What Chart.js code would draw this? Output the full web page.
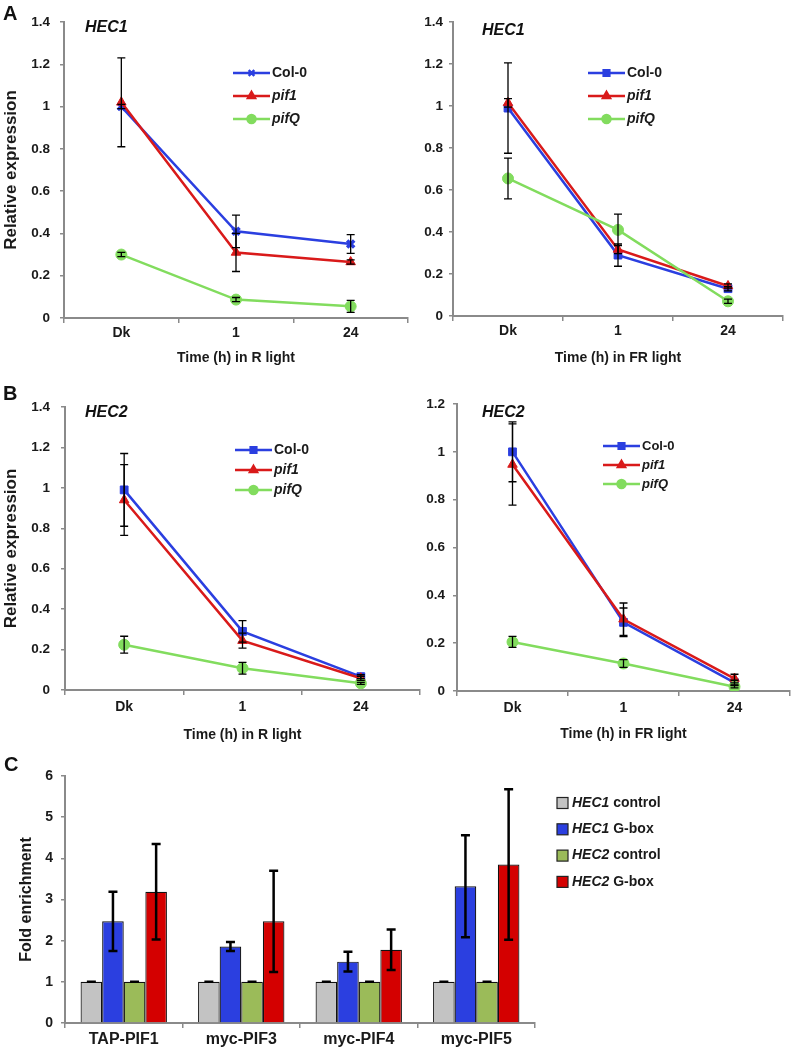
<!DOCTYPE html>
<html>
<head>
<meta charset="utf-8">
<script src="https://cdn.jsdelivr.net/npm/chart.js@4.4.1/dist/chart.umd.min.js"></script>
<style>
  body { margin: 0; background: #fff; }
  #page { position: relative; width: 797px; height: 1049px; overflow: hidden; font-family: "Liberation Sans", Arial, sans-serif; }
  canvas { position: absolute; }
  .lbl { position: absolute; font-weight: bold; line-height: 1; color: #111; white-space: nowrap; }
  .letter { font-size: 20px; }
  .gene { font-size: 16px; font-style: italic; }
</style>
</head>
<body>
<div id="page">
  <canvas id="aLeft" style="left:0;top:0" width="412" height="370"></canvas>
  <canvas id="aRight" style="left:400px;top:0" width="397" height="370"></canvas>
  <canvas id="bLeft" style="left:0;top:380px" width="424" height="370"></canvas>
  <canvas id="bRight" style="left:400px;top:380px" width="397" height="370"></canvas>
  <canvas id="cChart" style="left:0;top:740px" width="797" height="309"></canvas>

  <div class="lbl letter" style="left:3px;top:3px">A</div>
  <div class="lbl letter" style="left:3px;top:383px">B</div>
  <div class="lbl letter" style="left:4px;top:754px">C</div>
  <div class="lbl gene" style="left:85px;top:19px">HEC1</div>
  <div class="lbl gene" style="left:482px;top:22px">HEC1</div>
  <div class="lbl gene" style="left:85px;top:404px">HEC2</div>
  <div class="lbl gene" style="left:482px;top:404px">HEC2</div>
</div>
<script>
// ---- data ----
const timeLabels = ['Dk', '1', '24'];
const seriesNames = ['Col-0', 'pif1', 'pifQ'];

// A, HEC1, R light
const hec1R_col0 = [1.00, 0.41, 0.35];
const hec1R_col0Err = [0.01, 0.077, 0.044];
const hec1R_pif1 = [1.02, 0.31, 0.265];
const hec1R_pif1Err = [0.21, 0.09, 0.01];
const hec1R_pifQ = [0.30, 0.087, 0.055];
const hec1R_pifQErr = [0.01, 0.01, 0.028];

// A, HEC1, FR light
const hec1FR_col0 = [0.99, 0.29, 0.13];
const hec1FR_col0Err = [0.215, 0.053, 0.01];
const hec1FR_pif1 = [1.015, 0.317, 0.143];
const hec1FR_pif1Err = [0.02, 0.02, 0.01];
const hec1FR_pifQ = [0.655, 0.41, 0.07];
const hec1FR_pifQErr = [0.097, 0.075, 0.01];

// B, HEC2, R light
const hec2R_col0 = [0.99, 0.29, 0.066];
const hec2R_col0Err = [0.18, 0.053, 0.01];
const hec2R_pif1 = [0.94, 0.244, 0.058];
const hec2R_pif1Err = [0.175, 0.037, 0.01];
const hec2R_pifQ = [0.224, 0.108, 0.033];
const hec2R_pifQErr = [0.042, 0.029, 0.005];

// B, HEC2, FR light
const hec2FR_col0 = [1.0, 0.287, 0.035];
const hec2FR_col0Err = [0.125, 0.06, 0.01];
const hec2FR_pif1 = [0.947, 0.30, 0.052];
const hec2FR_pif1Err = [0.17, 0.068, 0.018];
const hec2FR_pifQ = [0.205, 0.115, 0.018];
const hec2FR_pifQErr = [0.023, 0.016, 0.005];

// C, ChIP fold enrichment
const chipLabels = ['TAP-PIF1', 'myc-PIF3', 'myc-PIF4', 'myc-PIF5'];
const chipNames = ['HEC1 control', 'HEC1 G-box', 'HEC2 control', 'HEC2 G-box'];
const hec1Control = [1, 1, 1, 1];
const hec1ControlErr = [0, 0, 0, 0];
const hec1Gbox = [2.47, 1.86, 1.49, 3.32];
const hec1GboxErr = [0.72, 0.11, 0.24, 1.24];
const hec2Control = [1, 1, 1, 1];
const hec2ControlErr = [0, 0, 0, 0];
const hec2Gbox = [3.19, 2.47, 1.78, 3.85];
const hec2GboxErr = [1.16, 1.23, 0.49, 1.83];

// ---- style ----
const FONT = '"Liberation Sans", Arial, sans-serif';
const BLUE = '#2b3fe0', RED = '#d91a1a', GREEN = '#82dc5e';
const AXIS = '#8a8a8a', TEXT = '#1a1a1a';

Chart.defaults.font.family = FONT;
Chart.defaults.font.weight = 'bold';
Chart.defaults.color = TEXT;
Chart.defaults.animation = false;

const errorBars = {
  id: 'errorBars',
  afterDatasetsDraw(chart, args, opts) {
    const ctx = chart.ctx;
    chart.data.datasets.forEach((ds, i) => {
      if (!ds.errors) return;
      const meta = chart.getDatasetMeta(i);
      const ys = chart.scales[meta.yAxisID];
      meta.data.forEach((el, j) => {
        const v = ds.data[j], e = ds.errors[j];
        const top = ys.getPixelForValue(v + e), bot = ys.getPixelForValue(v - e);
        ctx.save();
        ctx.strokeStyle = '#000';
        ctx.lineWidth = opts.width;
        ctx.beginPath();
        ctx.moveTo(el.x, top); ctx.lineTo(el.x, bot);
        ctx.moveTo(el.x - opts.cap, top); ctx.lineTo(el.x + opts.cap, top);
        ctx.moveTo(el.x - opts.cap, bot); ctx.lineTo(el.x + opts.cap, bot);
        ctx.stroke();
        ctx.restore();
      });
    });
  }
};

// legend drawn inside the plot area
const insideLegend = {
  id: 'insideLegend',
  afterDraw(chart, args, opts) {
    if (!opts.mode) return;
    const {ctx, chartArea} = chart;
    chart.data.datasets.forEach((ds, i) => {
      const x0 = chartArea.left + opts.x;
      const y = chartArea.top + opts.y + i * opts.gap;
      ctx.save();
      if (opts.mode === 'line') {
        ctx.strokeStyle = ds.borderColor;
        ctx.lineWidth = ds.borderWidth;
        ctx.beginPath(); ctx.moveTo(x0, y); ctx.lineTo(x0 + opts.len, y); ctx.stroke();
        ctx.fillStyle = ds.pointBackgroundColor;
        ctx.strokeStyle = ds.pointBorderColor;
        Chart.helpers.drawPoint(ctx, {pointStyle: ds.pointStyle, radius: opts.radius, rotation: 0, borderWidth: ds.pointBorderWidth}, x0 + opts.len / 2, y);
        ctx.fillStyle = TEXT;
        ctx.textBaseline = 'middle';
        ctx.font = (ds.label === 'Col-0' ? '' : 'italic ') + 'bold ' + opts.size + 'px ' + FONT;
        ctx.fillText(ds.label, x0 + opts.len + 2, y);
      } else {
        const s = opts.box;
        ctx.fillStyle = ds.backgroundColor;
        ctx.fillRect(x0, y - s / 2, s, s);
        ctx.strokeStyle = '#222';
        ctx.lineWidth = 1.2;
        ctx.strokeRect(x0, y - s / 2, s, s);
        const gene = ds.label.split(' ')[0], rest = ds.label.slice(gene.length);
        ctx.fillStyle = TEXT;
        ctx.textBaseline = 'middle';
        ctx.font = 'italic bold ' + opts.size + 'px ' + FONT;
        ctx.fillText(gene, x0 + s + 4, y);
        const w = ctx.measureText(gene).width;
        ctx.font = 'bold ' + opts.size + 'px ' + FONT;
        ctx.fillText(rest, x0 + s + 4 + w, y);
      }
      ctx.restore();
    });
  }
};

function lineSet(label, data, errors, color, style, order) {
  return {
    label, data, errors, order,
    borderColor: color, borderWidth: 2.5,
    pointStyle: style, pointRadius: style === 'crossRot' ? 5 : 5.5,
    pointBackgroundColor: color, pointBorderColor: color,
    pointBorderWidth: style === 'crossRot' ? 3.5 : 1,
    fill: false, tension: 0
  };
}

function lineChart(id, cfg) {
  new Chart(document.getElementById(id), {
    type: 'line',
    data: {
      labels: timeLabels,
      datasets: [
        lineSet(seriesNames[0], cfg.col0, cfg.col0Err, BLUE, cfg.col0Style, 2),
        lineSet(seriesNames[1], cfg.pif1, cfg.pif1Err, RED, 'triangle', 1),
        lineSet(seriesNames[2], cfg.pifQ, cfg.pifQErr, GREEN, 'circle', 0)
      ]
    },
    options: {
      responsive: false,
      layout: { autoPadding: false, padding: cfg.padding },
      plugins: {
        legend: { display: false },
        tooltip: { enabled: false },
        errorBars: { width: 1.3, cap: 4 },
        insideLegend: Object.assign({ mode: 'line', len: 37, radius: 4 }, cfg.legend)
      },
      scales: {
        x: {
          offset: true,
          grid: { offset: true, drawOnChartArea: false, drawTicks: true, tickLength: 5, color: AXIS, lineWidth: 1.5 },
          border: { display: true, color: AXIS, width: 2 },
          ticks: { font: { size: 14, weight: 'bold' }, padding: cfg.xPad, color: TEXT },
          title: { display: true, text: cfg.xTitle, font: { size: 14, weight: 'bold' }, padding: { top: 0, bottom: cfg.titlePad }, color: TEXT },
          afterFit(s) { s.height = cfg.xHeight; }
        },
        y: {
          min: 0, max: cfg.yMax,
          ticks: { stepSize: 0.2, font: { size: 13.5, weight: 'bold' }, padding: cfg.yPad, color: TEXT,
                   callback: v => String(+v.toFixed(1)) },
          grid: { drawOnChartArea: false, drawTicks: true, tickLength: 4, color: AXIS, lineWidth: 1.5 },
          border: { display: true, color: AXIS, width: 2 },
          title: { display: !!cfg.yTitle, text: cfg.yTitle || '', font: { size: 17, weight: 'bold' }, padding: { top: 1, bottom: 0 }, color: TEXT },
          afterFit(s) { s.width = cfg.yWidth; }
        }
      }
    },
    plugins: [errorBars, insideLegend]
  });
}

lineChart('aLeft', {
  col0: hec1R_col0, col0Err: hec1R_col0Err, pif1: hec1R_pif1, pif1Err: hec1R_pif1Err,
  pifQ: hec1R_pifQ, pifQErr: hec1R_pifQErr, col0Style: 'crossRot',
  padding: { top: 22, right: 4, bottom: 0, left: 0 }, yWidth: 64, xHeight: 52,
  yMax: 1.4, yPad: 10, xPad: 2, titlePad: 3.6,
  xTitle: 'Time (h) in R light', yTitle: 'Relative expression',
  legend: { x: 169, y: 51, gap: 23, size: 14 }
});

lineChart('aRight', {
  col0: hec1FR_col0, col0Err: hec1FR_col0Err, pif1: hec1FR_pif1, pif1Err: hec1FR_pif1Err,
  pifQ: hec1FR_pifQ, pifQErr: hec1FR_pifQErr, col0Style: 'rect',
  padding: { top: 22, right: 14, bottom: 0, left: 0 }, yWidth: 53, xHeight: 54,
  yMax: 1.4, yPad: 6, xPad: 2, titlePad: 3.6,
  xTitle: 'Time (h) in FR light',
  legend: { x: 135, y: 51, gap: 23, size: 14 }
});

lineChart('bLeft', {
  col0: hec2R_col0, col0Err: hec2R_col0Err, pif1: hec2R_pif1, pif1Err: hec2R_pif1Err,
  pifQ: hec2R_pifQ, pifQErr: hec2R_pifQErr, col0Style: 'rect',
  padding: { top: 27, right: 4, bottom: 0, left: 0 }, yWidth: 65, xHeight: 60,
  yMax: 1.4, yPad: 11, xPad: 4, titlePad: 6.6,
  xTitle: 'Time (h) in R light', yTitle: 'Relative expression',
  legend: { x: 170, y: 43, gap: 20, size: 14 }
});

lineChart('bRight', {
  col0: hec2FR_col0, col0Err: hec2FR_col0Err, pif1: hec2FR_pif1, pif1Err: hec2FR_pif1Err,
  pifQ: hec2FR_pifQ, pifQErr: hec2FR_pifQErr, col0Style: 'rect',
  padding: { top: 24, right: 7, bottom: 0, left: 0 }, yWidth: 57, xHeight: 59,
  yMax: 1.2, yPad: 8, xPad: 4, titlePad: 7.6,
  xTitle: 'Time (h) in FR light',
  legend: { x: 146, y: 42, gap: 19, size: 13 }
});

// ---- C: bar chart ----
function barSet(label, data, errors, color) {
  return { label, data, errors, backgroundColor: color, borderColor: '#111', borderWidth: 1.2,
           categoryPercentage: 0.735, barPercentage: 1.0 };
}

new Chart(document.getElementById('cChart'), {
  type: 'bar',
  data: {
    labels: chipLabels,
    datasets: [
      barSet(chipNames[0], hec1Control, hec1ControlErr, '#c3c3c3'),
      barSet(chipNames[1], hec1Gbox, hec1GboxErr, '#2b3fe0'),
      barSet(chipNames[2], hec2Control, hec2ControlErr, '#9bbb59'),
      barSet(chipNames[3], hec2Gbox, hec2GboxErr, '#d40000')
    ]
  },
  options: {
    responsive: false,
    layout: { autoPadding: false, padding: { top: 36, right: 262, bottom: 0, left: 0 } },
    plugins: {
      legend: { display: false },
      tooltip: { enabled: false },
      errorBars: { width: 2.5, cap: 4.5 },
      insideLegend: { mode: 'box', x: 492, y: 27, gap: 26.3, size: 14, box: 11 }
    },
    scales: {
      x: {
        grid: { offset: true, drawOnChartArea: false, drawTicks: true, tickLength: 5, color: AXIS, lineWidth: 1.5 },
        border: { display: true, color: AXIS, width: 2 },
        ticks: { font: { size: 16, weight: 'bold' }, padding: 2, color: TEXT },
        afterFit(s) { s.height = 26; }
      },
      y: {
        min: 0, max: 6,
        ticks: { stepSize: 1, font: { size: 14, weight: 'bold' }, padding: 8, color: TEXT },
        grid: { drawOnChartArea: false, drawTicks: true, tickLength: 4, color: AXIS, lineWidth: 1.5 },
        border: { display: true, color: AXIS, width: 2 },
        title: { display: true, text: 'Fold enrichment', font: { size: 16, weight: 'bold' }, padding: { top: 17, bottom: 0 }, color: TEXT },
        afterFit(s) { s.width = 65; }
      }
    }
  },
  plugins: [errorBars, insideLegend]
});
</script>
</body>
</html>
